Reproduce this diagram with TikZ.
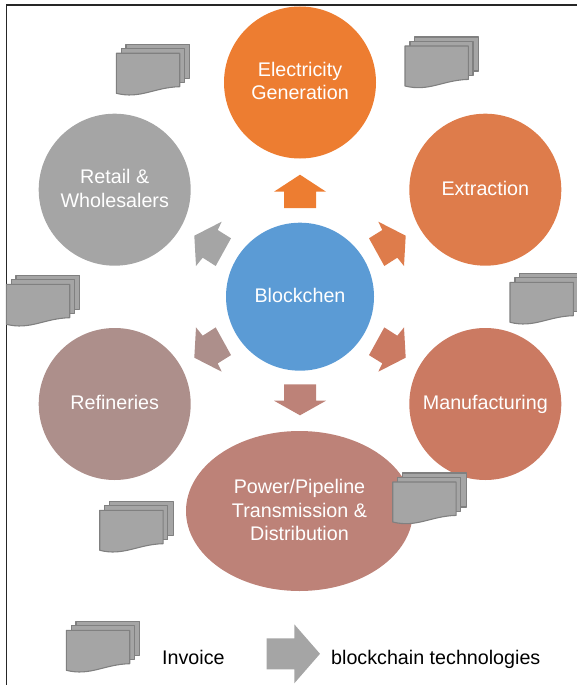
\documentclass[tikz,border=0pt]{standalone}
\usepackage{fontspec}
\setmainfont{Liberation Sans}
\usetikzlibrary{shapes.geometric}
\definecolor{elec}{HTML}{ED7D31}
\definecolor{extr}{HTML}{DE7C4B}
\definecolor{manu}{HTML}{CB7A62}
\definecolor{powr}{HTML}{BD8278}
\definecolor{refi}{HTML}{AD8F8B}
\definecolor{reta}{HTML}{A5A5A5}
\definecolor{chain}{HTML}{5B9BD5}
\tikzset{
    hub/.style={circle,minimum size=#1,inner sep=0pt,text=white,align=center,
        font=\fontsize{19.7}{23.7}\selectfont},
    oneline/.style={text height=14pt,text depth=3pt},
    caption/.style={inner sep=0pt,anchor=base west,text=black,
        font=\fontsize{19.7}{23.7}\selectfont},
    sheet/.style={draw=black!50,fill=reta,line width=1.1pt,line join=round},
    invoice/.pic={
        \path [sheet] (9.7,-9) rectangle (73.4,25);
        \path [sheet] (5,-4.6) rectangle (68,29.4);
        \path [sheet] (0,0) -- (63.4,0) -- (63.4,33.4)
            .. controls (38,34) and (24,46) .. (0,40) -- cycle;
    }
}
\newcommand{\slantarrow}[3]{
    \fill [#3,shift={(300,296.7)},xscale=#1,yscale=#2]
        (105.7,-61) -- (104,-30.7) -- (97.3,-39) -- (84.3,-30.7)
        -- (69,-58.4) -- (82.3,-66.7) -- (78.3,-75) -- cycle;
}

\begin{document}
\begin{tikzpicture}[x=1pt,y=-1pt]
    \useasboundingbox (0,0) rectangle (577,685);
    \draw [line width=1.2pt,black!85] (6.5,685) -- (6.5,5) -- (577,5);

    \node [hub=152pt,fill=elec,text depth=3pt] (elecgen) at (300,82.5) {Electricity\\Generation};
    \node [hub=152pt,fill=extr,oneline] (extraction) at (485.3,189.7) {Extraction};
    \node [hub=152pt,fill=manu,oneline] (manufact) at (485.3,404) {Manufacturing};
    \node [hub=152pt,fill=refi,oneline] (refineries) at (114.7,404) {Refineries};
    \node [hub=152pt,fill=reta,text depth=2pt] (retail) at (114.7,189.7) {Retail \&\\Wholesalers};
    \node [hub=148pt,fill=chain,oneline] (chain) at (300,296.7) {Blockchen};
    \node [hub=160pt,fill=powr,ellipse,minimum width=227pt,minimum height=160pt,text depth=2pt] (power) at (299.5,511)
        {Power/Pipeline\\Transmission \&\\Distribution};

    \fill [elec] (300,174.7) -- (326,191.7) -- (316,191.7) -- (316,208)
        -- (284,208) -- (284,191.7) -- (274,191.7) -- cycle;
    \fill [powr] (300,415.3) -- (326,400.7) -- (316,400.7) -- (316,384.3)
        -- (284,384.3) -- (284,400.7) -- (274,400.7) -- cycle;
    \slantarrow{1}{1}{extr}
    \slantarrow{1}{-1}{manu}
    \slantarrow{-1}{1}{reta}
    \slantarrow{-1}{-1}{refi}

    \pic at (116.3,53.3) {invoice};
    \pic at (405,46) {invoice};
    \pic at (6.3,284.3) {invoice};
    \pic at (510,282.3) {invoice};
    \pic at (99.7,510.3) {invoice};
    \pic at (392.7,482) {invoice};
    \pic at (66.3,630.3) {invoice};

    \fill [reta] (266.7,638.3) -- (294.3,638.3) -- (294.3,624.3) -- (320,653.8)
        -- (294.3,683.3) -- (294.3,669.3) -- (266.7,669.3) -- cycle;
    \node [caption] (invlabel) at (162,664) {Invoice};
    \node [caption] (techlabel) at (331,664) {blockchain technologies};
\end{tikzpicture}
\end{document}
